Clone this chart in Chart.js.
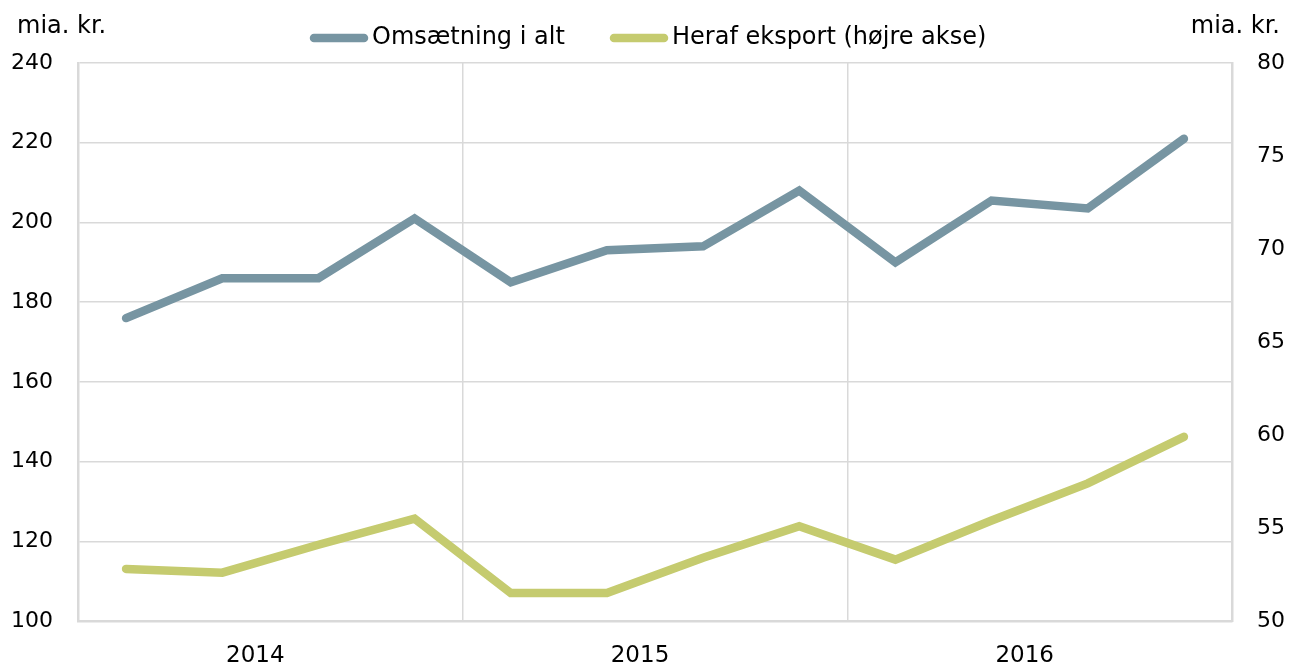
<!DOCTYPE html>
<html>
<head>
<meta charset="utf-8">
<script src="https://cdn.jsdelivr.net/npm/chart.js@4/dist/chart.umd.min.js"></script>
<style>
  html, body { margin: 0; padding: 0; background: #fff; overflow: hidden; }
  #wrap { width: 1290px; height: 662px; position: relative; }
</style>
</head>
<body>
<div id="wrap"><canvas id="c"></canvas></div>
<script>
const quarters = ['2014K1','2014K2','2014K3','2014K4','2015K1','2015K2','2015K3','2015K4','2016K1','2016K2','2016K3','2016K4'];
const years = ['2014', '2015', '2016'];
const omsaetning = [176, 186, 186, 201, 185, 193, 194, 208, 190, 205.5, 203.5, 221];
const eksport = [52.8, 52.6, 54.1, 55.5, 51.5, 51.5, 53.4, 55.1, 53.3, 55.4, 57.4, 59.9];
const seriesNames = ['Omsætning i alt', 'Heraf eksport (højre akse)'];
const unitLabel = 'mia. kr.';

const FONT = 'DejaVu Sans, Verdana, sans-serif';
const GRID = '#D9D9D9';
const BLUE = '#7795A2';
const GREEN = '#C5CB6F';

const overlay = {
  id: 'overlay',
  afterDraw(chart) {
    const ctx = chart.ctx;
    ctx.save();
    ctx.fillStyle = '#000';
    ctx.font = '24px ' + FONT;
    ctx.textBaseline = 'middle';
    ctx.textAlign = 'left';
    ctx.fillText(unitLabel, 17, 27);
    ctx.textAlign = 'right';
    ctx.fillText(unitLabel, 1280, 27);
    // legend
    const items = [{x: 314, ds: chart.data.datasets[0]}, {x: 614, ds: chart.data.datasets[1]}];
    items.forEach(it => {
      ctx.beginPath();
      ctx.lineCap = 'round';
      ctx.lineWidth = 8.5;
      ctx.strokeStyle = it.ds.borderColor;
      ctx.moveTo(it.x, 38);
      ctx.lineTo(it.x + 50, 38);
      ctx.stroke();
      ctx.textAlign = 'left';
      ctx.fillStyle = '#000';
      ctx.font = '24px ' + FONT;
      ctx.fillText(it.ds.label, it.x + 58, 38);
    });
    ctx.restore();
  }
};

new Chart(document.getElementById('c'), {
  type: 'line',
  data: {
    labels: quarters,
    datasets: [
      { label: seriesNames[0], data: omsaetning, yAxisID: 'y', xAxisID: 'x',
        borderColor: BLUE, backgroundColor: BLUE, borderWidth: 8.5,
        borderCapStyle: 'round', borderJoinStyle: 'miter', pointRadius: 0, tension: 0 },
      { label: seriesNames[1], data: eksport, yAxisID: 'y1', xAxisID: 'x',
        borderColor: GREEN, backgroundColor: GREEN, borderWidth: 8.5,
        borderCapStyle: 'round', borderJoinStyle: 'miter', pointRadius: 0, tension: 0 }
    ]
  },
  options: {
    responsive: true,
    maintainAspectRatio: false,
    animation: false,
    devicePixelRatio: 1,
    layout: { padding: { top: 63, left: 0, right: 0, bottom: 0 } },
    plugins: { legend: { display: false }, tooltip: { enabled: false } },
    scales: {
      x: { type: 'category', display: false, offset: true },
      x2: {
        type: 'category', labels: years, position: 'bottom', offset: true,
        grid: { offset: true, color: GRID, lineWidth: 1.5, drawTicks: false },
        border: { display: true, color: GRID, width: 2.5 },
        ticks: { color: '#000', font: { family: FONT, size: 23 }, padding: 21, labelOffset: -15, maxRotation: 0 },
        afterFit(s) { s.height = 41; }
      },
      y: {
        position: 'left', min: 100, max: 240,
        ticks: { stepSize: 20, color: '#000', font: { family: FONT, size: 22 }, padding: 25 },
        grid: { color: GRID, lineWidth: 1.5, drawTicks: false },
        border: { display: true, color: GRID, width: 2.5 },
        afterFit(s) { s.width = 78; }
      },
      y1: {
        position: 'right', min: 50, max: 80,
        ticks: { stepSize: 5, color: '#000', font: { family: FONT, size: 22 }, padding: 25 },
        grid: { display: false, drawTicks: false },
        border: { display: true, color: GRID, width: 2.5 },
        afterFit(s) { s.width = 58; }
      }
    }
  },
  plugins: [overlay]
});
</script>
</body>
</html>
